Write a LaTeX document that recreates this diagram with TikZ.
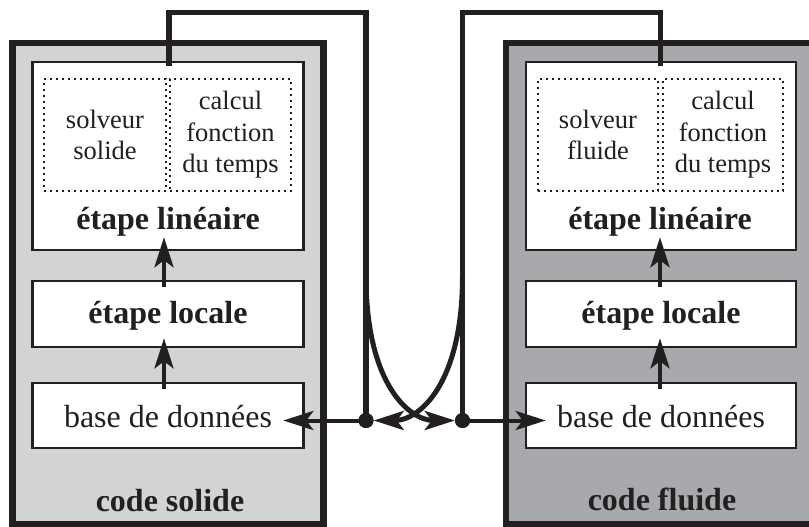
\documentclass[tikz,border=0pt]{standalone}
\usepackage{fontspec}
\setmainfont{Liberation Serif}
\usetikzlibrary{arrows.meta}
\definecolor{ink}{RGB}{35,31,32}
\definecolor{solidgray}{RGB}{209,211,212}
\definecolor{fluidgray}{RGB}{167,169,172}
\begin{document}
\begin{tikzpicture}[x=1pt,y=-1pt,
  txt/.style={font=\fontsize{32}{31.5}\selectfont, text=ink, align=center, inner sep=0pt},
  boldtxt/.style={txt, font=\fontsize{32}{31.5}\selectfont\bfseries, anchor=base},
  smalltxt/.style={txt, font=\fontsize{26.5}{31.5}\selectfont},
  codebox/.style={draw=ink, line width=6.5pt, inner sep=0pt},
  stepbox/.style={draw=ink, fill=white, line width=2.6pt, inner sep=0pt, minimum width=271pt},
  dotbox/.style={draw=ink, line width=2pt, dash pattern=on 2pt off 4pt, inner sep=0pt, smalltxt, minimum height=112pt},
  junction/.style={circle, fill=ink, inner sep=0pt, minimum size=15pt},
  conn/.style={draw=ink, line width=5.5pt},
  arr/.style={draw=ink, line width=4pt, -{Stealth[length=30pt, width=19pt, inset=7pt]}}
]
\useasboundingbox (0,0) rectangle (809,527);

% outer code boxes
\node[codebox, fill=solidgray, minimum width=311pt, minimum height=481pt] (solid) at (168,283.5) {};
\node[codebox, fill=fluidgray, minimum width=313pt, minimum height=481pt] (fluid) at (662.5,283.5) {};

% solid side
\node[stepbox, minimum height=188pt] (linS) at (168,156) {};
\node[dotbox, minimum width=122pt] (solv) at (105,135) {solveur\\solide};
\node[dotbox, minimum width=121pt] (calcS) at (230.5,135) {calcul\\fonction\\du temps};
\node[boldtxt] (linSlab) at (168,229) {étape linéaire};
\node[stepbox, minimum height=66pt] (locS) at (168,314) {};
\node[boldtxt] (locSlab) at (168,323) {étape locale};
\node[stepbox, minimum height=65pt] (baseS) at (168,415.5) {};
\node[txt, anchor=base] (baseSlab) at (168,427) {base de données};
\node[boldtxt] (solidlab) at (170,511) {code solide};

% fluid side
\node[stepbox, minimum width=270pt, minimum height=188pt] (linF) at (661,156) {};
\node[dotbox, minimum width=120pt] (solf) at (598,135) {solveur\\fluide};
\node[dotbox, minimum width=120pt] (calcF) at (723,135) {calcul\\fonction\\du temps};
\node[boldtxt] (linFlab) at (660,229) {étape linéaire};
\node[stepbox, minimum width=270pt, minimum height=66pt] (locF) at (661,314) {};
\node[boldtxt] (locFlab) at (661,323) {étape locale};
\node[stepbox, minimum width=270pt, minimum height=65pt] (baseF) at (661,415.5) {};
\node[txt, anchor=base] (baseFlab) at (661,427) {base de données};
\node[boldtxt] (fluidlab) at (662,510) {code fluide};

% vertical arrows inside code boxes
\draw[arr] ([xshift=-4pt,yshift=-7pt]baseS.north) -- ([xshift=-4pt,yshift=10pt]locS.south);
\draw[arr] ([xshift=-4pt,yshift=-7pt]locS.north) -- ([xshift=-4pt,yshift=14pt]linS.south);
\draw[arr] ([xshift=-1pt,yshift=-7pt]baseF.north) -- ([xshift=-1pt,yshift=10pt]locF.south);
\draw[arr] ([xshift=-1pt,yshift=-7pt]locF.north) -- ([xshift=-1pt,yshift=14pt]linF.south);

% junctions
\node[junction] (jS) at (366,420.5) {};
\node[junction] (jF) at (462.5,420.5) {};
\coordinate (topS) at (169,12.5);
\coordinate (topF) at (660.5,12.5);
\coordinate (bS) at (366,276);
\coordinate (bF) at (462.5,276);

% top connectors
\draw[conn] ([xshift=1pt,yshift=-5pt]linS.north) -- (topS) -| (jS.center);
\draw[conn] ([xshift=-0.5pt,yshift=-5pt]linF.north) -- (topF) -| (jF.center);

% crossing curves
\draw[arr, line width=5pt] (bS) .. controls (366,385) and (410,420.5) .. (jF.west);
\draw[arr, line width=5pt] (bF) .. controls (462.5,385) and (418.5,420.5) .. (jS.east);

% horizontal arrows to the data bases
\draw[arr] (jS.center) -- ([xshift=-21.5pt]baseS.east |- jS.center);
\draw[arr] (jF.center) -- ([xshift=21pt]baseF.west |- jF.center);
\node[junction] at (jS) {};
\node[junction] at (jF) {};
\end{tikzpicture}
\end{document}
